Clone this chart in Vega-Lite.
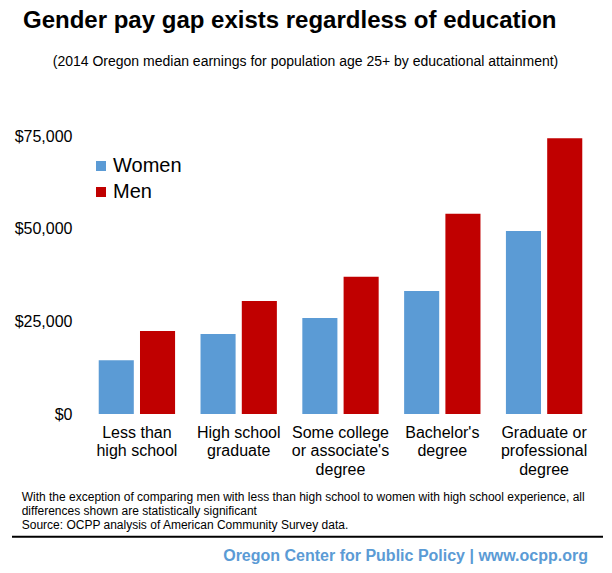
{
  "$schema": "https://vega.github.io/schema/vega-lite/v6.json",
  "width": 509,
  "height": 278,
  "autosize": {"type": "none"},
  "padding": {"left": 86, "top": 136, "right": 17, "bottom": 159},
  "background": "white",
  "config": {
    "font": "Liberation Sans",
    "view": {"stroke": null},
    "axis": {"grid": false, "ticks": false, "domain": false, "labelColor": "#000000", "labelFont": "Liberation Sans"}
  },
  "title": {
    "text": "Gender pay gap exists regardless of education",
    "anchor": "start",
    "frame": "group",
    "dx": -63,
    "offset": 22,
    "fontSize": 24,
    "fontWeight": "bold",
    "color": "#000000",
    "font": "Liberation Sans"
  },
  "data": {
    "values": [
      {"education": "Less than high school", "gender": "Women", "earnings": 14500},
      {"education": "Less than high school", "gender": "Men", "earnings": 22400},
      {"education": "High school graduate", "gender": "Women", "earnings": 21600},
      {"education": "High school graduate", "gender": "Men", "earnings": 30500},
      {"education": "Some college or associate's degree", "gender": "Women", "earnings": 25900},
      {"education": "Some college or associate's degree", "gender": "Men", "earnings": 37000},
      {"education": "Bachelor's degree", "gender": "Women", "earnings": 33200},
      {"education": "Bachelor's degree", "gender": "Men", "earnings": 54000},
      {"education": "Graduate or professional degree", "gender": "Women", "earnings": 49400},
      {"education": "Graduate or professional degree", "gender": "Men", "earnings": 74400}
    ]
  },
  "layer": [
    {
      "mark": {"type": "bar"},
      "encoding": {
        "x": {
          "field": "education",
          "type": "nominal",
          "sort": null,
          "scale": {"paddingInner": 0.25, "paddingOuter": 0.125},
          "axis": {
            "title": null,
            "labelAngle": 0,
            "labelFontSize": 16,
            "labelPadding": 10,
            "labelLineHeight": 18.5,
            "labelBaseline": "top",
            "labelAlign": "center",
            "labelExpr": "datum.value == 'Less than high school' ? ['Less than', 'high school'] : datum.value == 'High school graduate' ? ['High school', 'graduate'] : datum.value == \"Some college or associate's degree\" ? ['Some college', \"or associate's\", 'degree'] : datum.value == \"Bachelor's degree\" ? [\"Bachelor's\", 'degree'] : ['Graduate or', 'professional', 'degree']"
          }
        },
        "xOffset": {
          "field": "gender",
          "type": "nominal",
          "sort": ["Women", "Men"],
          "scale": {"paddingInner": 0.15, "paddingOuter": 0}
        },
        "y": {
          "field": "earnings",
          "type": "quantitative",
          "scale": {"domain": [0, 75000], "nice": false},
          "axis": {
            "title": null,
            "values": [0, 25000, 50000, 75000],
            "format": "$,.0f",
            "labelFontSize": 16,
            "labelPadding": 14
          }
        },
        "color": {
          "field": "gender",
          "type": "nominal",
          "scale": {"domain": ["Women", "Men"], "range": ["#5B9BD5", "#C00000"]},
          "legend": {
            "title": null,
            "orient": "none",
            "legendX": 5,
            "legendY": 20,
            "padding": 0,
            "symbolType": "square",
            "symbolSize": 100,
            "symbolStrokeWidth": 0,
            "labelFontSize": 20,
            "labelOffset": 2,
            "rowPadding": 6,
            "labelColor": "#000000",
            "labelFont": "Liberation Sans"
          }
        }
      }
    },
    {
      "data": {"values": [{"t": "(2014 Oregon median earnings for population age 25+ by educational attainment)"}]},
      "mark": {"type": "text", "align": "center", "baseline": "alphabetic", "fontSize": 14, "color": "#000000"},
      "encoding": {"text": {"field": "t"}, "x": {"value": 219.5}, "y": {"value": -70.5}}
    },
    {
      "data": {"values": [{"t": "note"}]},
      "mark": {
        "type": "text",
        "align": "left",
        "baseline": "alphabetic",
        "fontSize": 12,
        "lineHeight": 14.3,
        "color": "#000000",
        "text": [
          "With the exception of comparing men with less than high school to women with high school experience, all",
          "differences shown are statistically significant",
          "Source: OCPP analysis of American Community Survey data."
        ]
      },
      "encoding": {"x": {"value": -64.3}, "y": {"value": 364.7}}
    },
    {
      "data": {"values": [{"t": "rule"}]},
      "mark": {"type": "rule", "color": "#000000", "strokeWidth": 2},
      "encoding": {"x": {"value": -74}, "x2": {"value": 517}, "y": {"value": 400.7}}
    },
    {
      "data": {"values": [{"t": "Oregon Center for Public Policy | www.ocpp.org"}]},
      "mark": {"type": "text", "align": "right", "baseline": "alphabetic", "fontSize": 16, "fontWeight": "bold", "color": "#5B9BD5"},
      "encoding": {"text": {"field": "t"}, "x": {"value": 502}, "y": {"value": 425}}
    }
  ]
}
